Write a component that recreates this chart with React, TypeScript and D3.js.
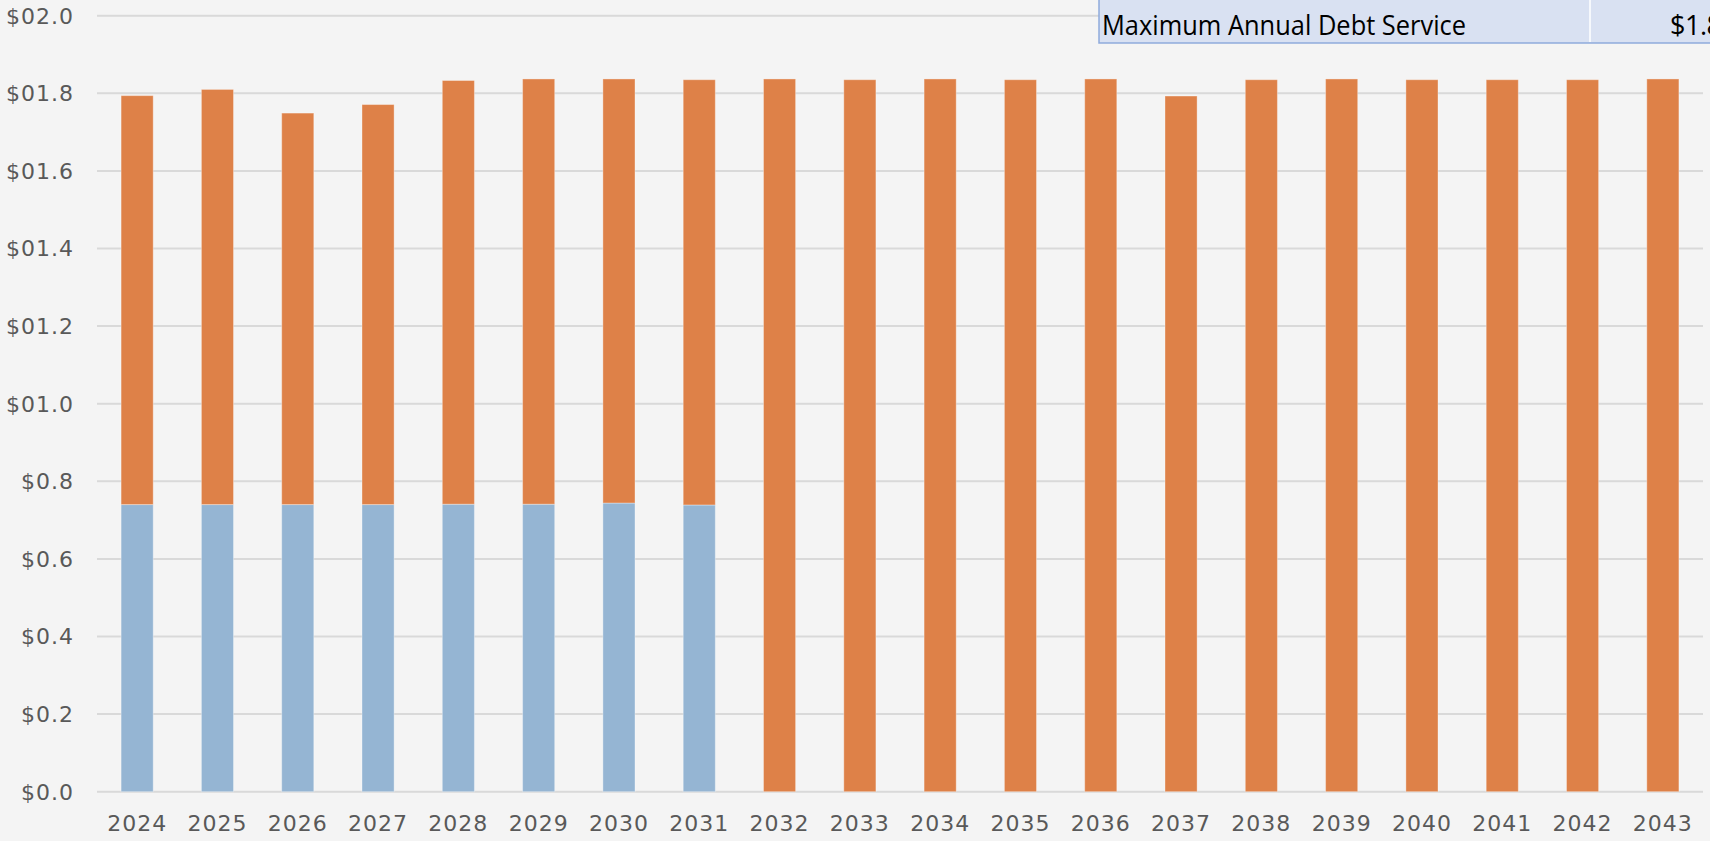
import { useEffect, useRef } from "react";
import * as d3 from "d3";

const years = [
  "2024", "2025", "2026", "2027", "2028", "2029", "2030", "2031", "2032", "2033",
  "2034", "2035", "2036", "2037", "2038", "2039", "2040", "2041", "2042", "2043",
];

// existing debt service (blue), new debt service (orange), in $ millions
const existingDebt = [
  0.740, 0.740, 0.740, 0.740, 0.741, 0.741, 0.744, 0.739, 0, 0,
  0, 0, 0, 0, 0, 0, 0, 0, 0, 0,
];
const newDebt = [
  1.054, 1.070, 1.009, 1.031, 1.092, 1.096, 1.093, 1.096, 1.837, 1.835,
  1.837, 1.835, 1.837, 1.793, 1.835, 1.837, 1.835, 1.835, 1.835, 1.837,
];

const yTicks = [0, 0.2, 0.4, 0.6, 0.8, 1.0, 1.2, 1.4, 1.6, 1.8, 2.0];
const yTickLabels = [
  "$0.0", "$0.2", "$0.4", "$0.6", "$0.8", "$01.0", "$01.2", "$01.4", "$01.6", "$01.8", "$02.0",
];

const tableLabel = "Maximum Annual Debt Service";
const tableValue = "$1.84";

const W = 1710;
const H = 841;

export default function App() {
  const svgRef = useRef<SVGSVGElement>(null);

  useEffect(() => {
    document.body.style.margin = "0";
    if (!svgRef.current) return;

    const margin = { top: 15.7, right: 7, bottom: 49.3, left: 97 };
    const width = W - margin.left - margin.right;
    const height = H - margin.top - margin.bottom;

    const svg = d3.select(svgRef.current);
    svg.selectAll("*").remove();

    svg.append("rect").attr("width", W).attr("height", H).attr("fill", "#f4f4f4");

    const chart = svg
      .append("g")
      .attr("transform", `translate(${margin.left},${margin.top})`);

    const xScale = d3
      .scaleBand()
      .domain(years)
      .range([0, width])
      .paddingInner(0.6)
      .paddingOuter(0.3);

    const yScale = d3.scaleLinear().domain([0, 2.0]).range([height, 0]);

    // 그리드
    chart
      .selectAll(".grid")
      .data(yTicks)
      .enter()
      .append("line")
      .attr("class", "grid")
      .attr("x1", 0)
      .attr("x2", width)
      .attr("y1", (d) => yScale(d))
      .attr("y2", (d) => yScale(d))
      .attr("stroke", "#d9d9d9")
      .attr("stroke-width", 2);

    // y 라벨
    chart
      .selectAll(".ylab")
      .data(yTicks)
      .enter()
      .append("text")
      .attr("class", "ylab")
      .attr("x", -23)
      .attr("y", (d) => yScale(d))
      .attr("dy", "0.36em")
      .attr("text-anchor", "end")
      .attr("fill", "#595959")
      .style("font-family", "'DejaVu Sans', sans-serif")
      .style("font-size", "22px")
      .style("letter-spacing", "1px")
      .text((_d, i) => yTickLabels[i]);

    // x 라벨
    chart
      .selectAll(".xlab")
      .data(years)
      .enter()
      .append("text")
      .attr("class", "xlab")
      .attr("x", (d) => (xScale(d) as number) + xScale.bandwidth() / 2)
      .attr("y", height + 39.5)
      .attr("text-anchor", "middle")
      .attr("fill", "#595959")
      .style("font-family", "'DejaVu Sans', sans-serif")
      .style("font-size", "22px")
      .style("letter-spacing", "1px")
      .text((d) => d);

    // 스택 막대
    const rows = years.map((y, i) => ({ year: y, existing: existingDebt[i], added: newDebt[i] }));
    const stack = d3.stack<any>().keys(["existing", "added"]);
    const series = stack(rows);
    const colors = ["#95b5d3", "#de8148"];

    series.forEach((s, si) => {
      chart
        .append("g")
        .selectAll("rect")
        .data(s.filter((d) => d[1] - d[0] > 0))
        .enter()
        .append("rect")
        .attr("x", (d) => xScale(d.data.year) as number)
        .attr("width", xScale.bandwidth())
        .attr("y", (d) => yScale(d[1]))
        .attr("height", (d) => yScale(d[0]) - yScale(d[1]))
        .attr("fill", colors[si])
        .attr("stroke", "rgba(255,255,255,0.35)")
        .attr("stroke-width", 1);
    });

    // 표 셀
    const table = svg.append("g");
    table
      .append("rect")
      .attr("x", 1099)
      .attr("y", -5)
      .attr("width", 640)
      .attr("height", 48)
      .attr("fill", "#d9e1f2")
      .attr("stroke", "#8eaadb")
      .attr("stroke-width", 1.5);
    table
      .append("line")
      .attr("x1", 1590)
      .attr("x2", 1590)
      .attr("y1", 0)
      .attr("y2", 42)
      .attr("stroke", "#ffffff")
      .attr("stroke-width", 1.5);
    table
      .append("text")
      .attr("x", 1102)
      .attr("y", 35)
      .attr("fill", "#000")
      .attr("textLength", 364)
      .attr("lengthAdjust", "spacingAndGlyphs")
      .style("font-family", "'Open Sans', sans-serif")
      .style("font-size", "28px")
      .text(tableLabel);
    table
      .append("text")
      .attr("x", 1670)
      .attr("y", 35)
      .attr("fill", "#000")
      .style("font-family", "'Open Sans', sans-serif")
      .style("font-size", "27px")
      .style("letter-spacing", "-0.5px")
      .text(tableValue);
  }, []);

  return <svg ref={svgRef} width={W} height={H} style={{ display: "block" }} />;
}
